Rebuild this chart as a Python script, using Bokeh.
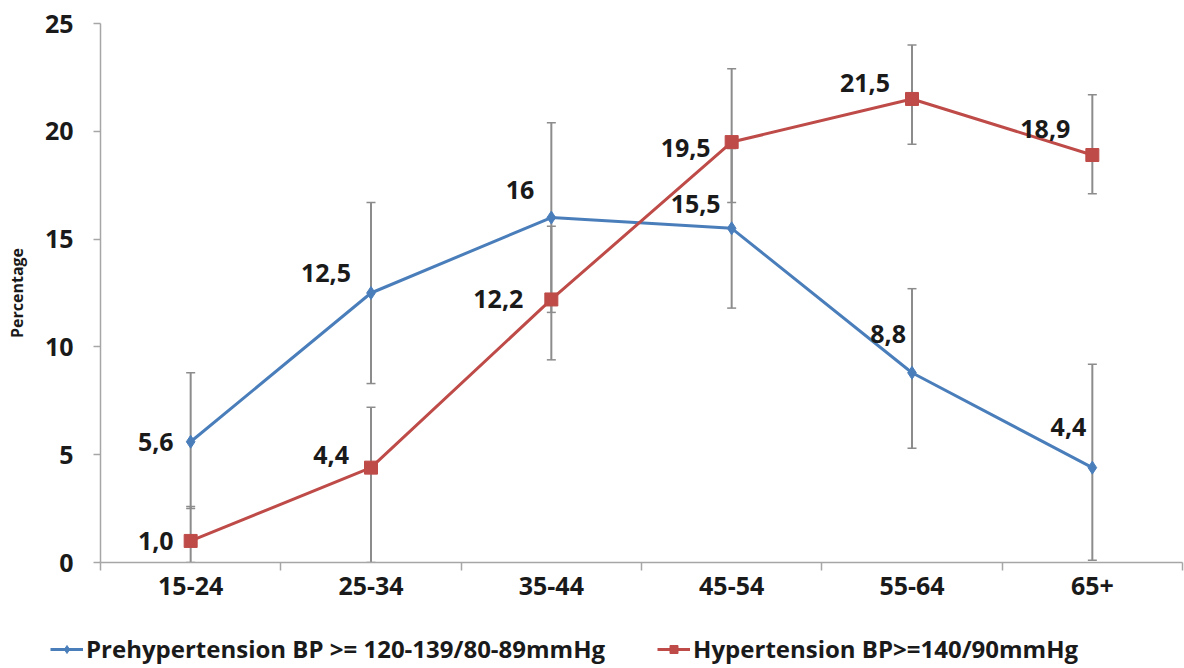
from bokeh.plotting import figure
from bokeh.layouts import column
from bokeh.models import (Range1d, FixedTicker, LinearAxis, Whisker, TeeHead,
                          ColumnDataSource, LabelSet, Legend, LegendItem)
from bokeh.core.properties import value
from bokeh.embed import file_html
from bokeh.resources import INLINE

# ---- data ----
categories = ["15-24", "25-34", "35-44", "45-54", "55-64", "65+"]
pre_values = [5.6, 12.5, 16.0, 15.5, 8.8, 4.4]
pre_lower = [2.5, 8.3, 11.6, 11.8, 5.3, 0.1]
pre_upper = [8.8, 16.7, 20.4, 19.2, 12.7, 9.2]
hyp_values = [1.0, 4.4, 12.2, 19.5, 21.5, 18.9]
hyp_lower = [0.0, 0.0, 9.4, 16.7, 19.4, 17.1]
hyp_upper = [2.6, 7.2, 15.6, 22.9, 24.0, 21.7]
pre_labels = ["5,6", "12,5", "16", "15,5", "8,8", "4,4"]
hyp_labels = ["1,0", "4,4", "12,2", "19,5", "21,5", "18,9"]
y_ticks = [0, 5, 10, 15, 20, 25]
pre_name = "Prehypertension BP >= 120-139/80-89mmHg"
hyp_name = "Hypertension BP>=140/90mmHg"

# label offsets (pixels) -- styling only
pre_dx = [-17, -20, -17, -11, -6, -6]
pre_dy = [0, 20, 28, 24, 39, 41]
hyp_dx = [-17, -22, -28, -21, -22, -22]
hyp_dy = [0, 13, 0, -6, 16, 26]

FONT = "Open Sans"
BLUE = "#4a7ebb"
RED = "#be4b48"
GRAY = "#a6a6a6"
ERR = "#8c8c8c"
TXT = "#1a1a1a"
FS = "25px"

xs = [i + 0.5 for i in range(len(categories))]

src_pre = ColumnDataSource(dict(x=xs, y=pre_values, lower=pre_lower, upper=pre_upper,
                                label=pre_labels, dx=pre_dx, dy=pre_dy))
src_hyp = ColumnDataSource(dict(x=xs, y=hyp_values, lower=hyp_lower, upper=hyp_upper,
                                label=hyp_labels, dx=hyp_dx, dy=hyp_dy))

p = figure(frame_width=1082, frame_height=539, output_backend="svg", toolbar_location=None,
           x_range=Range1d(0, len(categories)), y_range=Range1d(0, 25),
           x_axis_type=None, y_axis_type=None,
           min_border_left=100, min_border_top=23, min_border_right=2, min_border_bottom=60)
p.outline_line_color = None
p.background_fill_color = "white"

# axes
xaxis = LinearAxis(ticker=FixedTicker(ticks=xs, minor_ticks=list(range(len(categories) + 1))),
                   major_label_overrides={x: c for x, c in zip(xs, categories)})
xaxis.axis_line_color = GRAY
xaxis.axis_line_width = 1.5
xaxis.major_tick_line_color = None
xaxis.major_tick_out = 0
xaxis.major_tick_in = 0
xaxis.minor_tick_line_color = GRAY
xaxis.minor_tick_line_width = 1.5
xaxis.minor_tick_out = 8
xaxis.minor_tick_in = 0
xaxis.major_label_standoff = 6
xaxis.major_label_text_font = FONT
xaxis.major_label_text_font_style = "bold"
xaxis.major_label_text_font_size = FS
xaxis.major_label_text_color = TXT
p.add_layout(xaxis, "below")

yaxis = LinearAxis(ticker=FixedTicker(ticks=y_ticks, minor_ticks=[]))
yaxis.axis_line_color = GRAY
yaxis.axis_line_width = 1.5
yaxis.major_tick_line_color = GRAY
yaxis.major_tick_line_width = 1.5
yaxis.major_tick_out = 7
yaxis.major_tick_in = 0
yaxis.minor_tick_line_color = None
yaxis.major_label_standoff = 20
yaxis.major_label_text_font = FONT
yaxis.major_label_text_font_style = "bold"
yaxis.major_label_text_font_size = FS
yaxis.major_label_text_color = TXT
yaxis.axis_label = "Percentage"
yaxis.axis_label_text_font = FONT
yaxis.axis_label_text_font_style = "bold"
yaxis.axis_label_text_font_size = "16px"
yaxis.axis_label_text_color = TXT
yaxis.axis_label_standoff = 14
p.add_layout(yaxis, "left")

# error bars
for src in (src_pre, src_hyp):
    w = Whisker(base="x", lower="lower", upper="upper", source=src,
                line_color=ERR, line_width=2, level="underlay",
                upper_head=TeeHead(size=9, line_color=ERR, line_width=1.5),
                lower_head=TeeHead(size=9, line_color=ERR, line_width=1.5))
    p.add_layout(w)

# series
p.line("x", "y", source=src_pre, line_color=BLUE, line_width=3)
p.scatter("x", "y", source=src_pre, marker="diamond", size=13,
          fill_color=BLUE, line_color=BLUE)
p.line("x", "y", source=src_hyp, line_color=RED, line_width=3)
p.scatter("x", "y", source=src_hyp, marker="square", size=13,
          fill_color=RED, line_color=RED)

for src in (src_pre, src_hyp):
    p.add_layout(LabelSet(x="x", y="y", text="label", source=src,
                          x_offset="dx", y_offset="dy",
                          text_align="right", text_baseline="middle",
                          text_font=value(FONT), text_font_style="bold",
                          text_font_size=FS, text_color=TXT))

# legend strip (separate figure so the legend is not clipped); the series are
# drawn again here only to feed the legend, outside this strip's visible range
lg = figure(width=1184, height=46, output_backend="svg", toolbar_location=None,
            x_range=Range1d(0, 1), y_range=Range1d(-2, -1),
            x_axis_type=None, y_axis_type=None,
            min_border=0, min_border_left=0, min_border_right=0,
            min_border_top=0, min_border_bottom=0)
lg.outline_line_color = None
try:
    lg.frame_align = False
except Exception:
    pass
k1 = lg.line("x", "y", source=src_pre, line_color=BLUE, line_width=3)
k2 = lg.scatter("x", "y", source=src_pre, marker="diamond", size=13,
                fill_color=BLUE, line_color=BLUE)
k3 = lg.line("x", "y", source=src_hyp, line_color=RED, line_width=3)
k4 = lg.scatter("x", "y", source=src_hyp, marker="square", size=13,
                fill_color=RED, line_color=RED)

legend = Legend(items=[LegendItem(label=pre_name, renderers=[k1, k2]),
                       LegendItem(label=hyp_name, renderers=[k3, k4])],
                orientation="horizontal", location=(50, 3), spacing=52,
                glyph_width=33, label_standoff=3, padding=0, margin=0,
                border_line_color=None, background_fill_alpha=0,
                label_text_font=FONT, label_text_font_style="bold",
                label_text_font_size="24px", label_text_color=TXT)
lg.add_layout(legend)

layout = column(p, lg, spacing=0)
open("out.html", "w").write(file_html(layout, INLINE))
